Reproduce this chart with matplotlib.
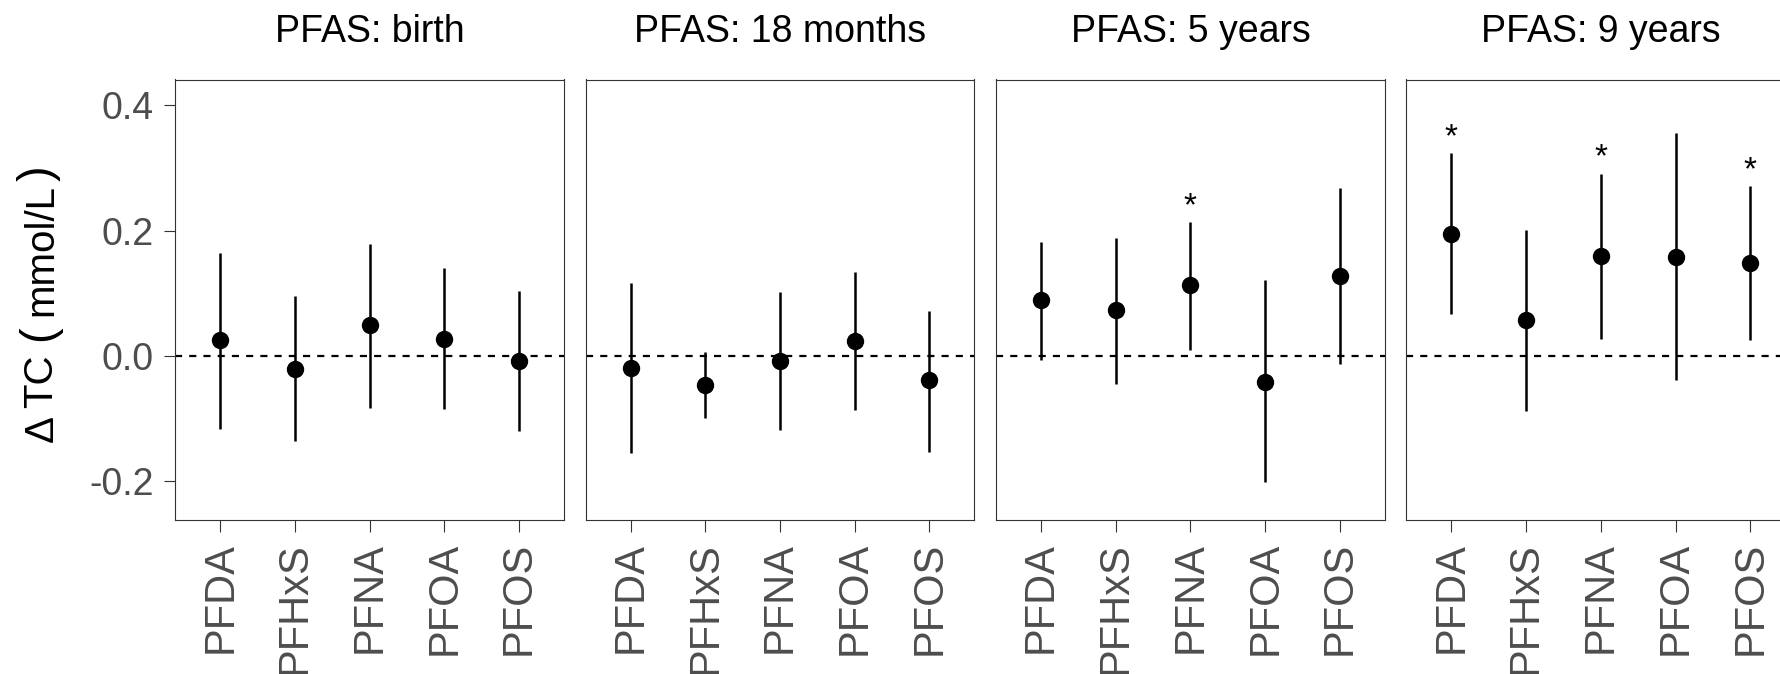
import matplotlib
matplotlib.use("Agg")
import matplotlib.pyplot as plt

plt.rcParams['font.family'] = ['Liberation Sans', 'DejaVu Sans']

# ---------------- data ----------------
pfas = ['PFDA', 'PFHxS', 'PFNA', 'PFOA', 'PFOS']
periods = ['PFAS: birth', 'PFAS: 18 months', 'PFAS: 5 years', 'PFAS: 9 years']

est_birth = [0.025, -0.020, 0.049, 0.027, -0.008]
lo_birth = [-0.116, -0.136, -0.083, -0.085, -0.119]
hi_birth = [0.165, 0.095, 0.179, 0.141, 0.104]
sig_birth = [0, 0, 0, 0, 0]

est_18m = [-0.019, -0.046, -0.008, 0.024, -0.039]
lo_18m = [-0.154, -0.099, -0.118, -0.086, -0.153]
hi_18m = [0.117, 0.006, 0.102, 0.134, 0.072]
sig_18m = [0, 0, 0, 0, 0]

est_5y = [0.089, 0.073, 0.113, -0.041, 0.127]
lo_5y = [-0.006, -0.044, 0.009, -0.201, -0.013]
hi_5y = [0.182, 0.188, 0.214, 0.121, 0.268]
sig_5y = [0, 0, 1, 0, 0]

est_9y = [0.195, 0.058, 0.159, 0.158, 0.149]
lo_9y = [0.067, -0.088, 0.027, -0.039, 0.025]
hi_9y = [0.323, 0.201, 0.291, 0.356, 0.271]
sig_9y = [1, 0, 1, 0, 1]

y_ticks = [-0.2, 0.0, 0.2, 0.4]
y_ticklabels = ['-0.2', '0.0', '0.2', '0.4']
ylabel_parts = ['Δ', 'TC', '(', 'mmol/L', ')']

panels = [
    (est_birth, lo_birth, hi_birth, sig_birth),
    (est_18m, lo_18m, hi_18m, sig_18m),
    (est_5y, lo_5y, hi_5y, sig_5y),
    (est_9y, lo_9y, hi_9y, sig_9y),
]

# ---------------- layout ----------------
W, H = 1781, 674
fig = plt.figure(figsize=(W / 100, H / 100), dpi=100)

left0, step, pw = 175.3, 410.4, 388.6
top_px, bot_px = 79.5, 519.7

grey_txt = '#4D4D4D'
grey_line = '#333333'

for i, (est, lo, hi, sig) in enumerate(panels):
    l = left0 + i * step
    ax = fig.add_axes([l / W, 1 - bot_px / H, pw / W, (bot_px - top_px) / H])
    x = list(range(1, len(pfas) + 1))
    ax.axhline(0, color='black', lw=1.6, linestyle=(0, (3.2, 3.2)), zorder=1)
    ax.vlines(x, lo, hi, color='black', lw=1.8, zorder=2)
    ax.plot(x, est, 'o', color='black', markersize=11.5, zorder=3)
    for xi, h, s in zip(x, hi, sig):
        if s:
            ax.annotate('*', (xi, h), xytext=(0, 5), textcoords='offset points',
                        ha='center', va='baseline', fontsize=24, color='black')
    ax.set_xlim(0.4, 5.6)
    ax.set_ylim(-0.261, 0.441)
    ax.set_xticks(x)
    ax.set_xticklabels(pfas, rotation=90, fontsize=30, color=grey_txt)
    ax.tick_params(axis='x', length=8.5, width=0.8, color=grey_line, pad=7.5)
    if i == 0:
        ax.set_yticks(y_ticks)
        ax.set_yticklabels(y_ticklabels, fontsize=27, color=grey_txt)
        ax.tick_params(axis='y', length=8, width=0.8, color=grey_line, pad=7.5)
    else:
        ax.set_yticks([])
    for sp in ax.spines.values():
        sp.set_color(grey_line)
        sp.set_linewidth(0.8)
    fig.text((l + pw / 2) / W, 1 - 41.7 / H, periods[i], ha='center', va='baseline',
             fontsize=27, color='black')

# y-axis label (plotmath-like, larger parentheses)
lab_pos = [(41.6, 442, 29), (41.6, 408, 29), (39, 341, 34), (41.6, 316, 29), (39, 181, 34)]
for txt, (xp, yp, fs) in zip(ylabel_parts, lab_pos):
    fig.text(xp / W, 1 - yp / H, txt, rotation=90, ha='center', va='bottom',
             fontsize=fs, color='black')

fig.savefig('out.png', dpi=100)
